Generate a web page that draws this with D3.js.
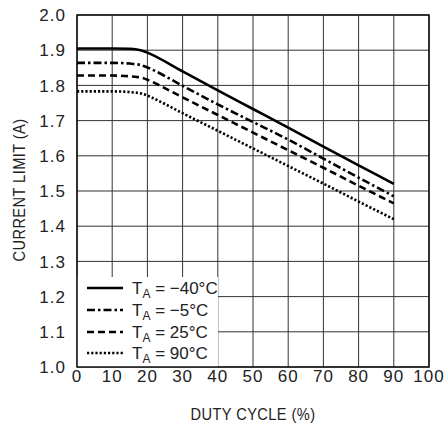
<!DOCTYPE html>
<html>
<head>
<meta charset="utf-8">
<script src="https://cdn.jsdelivr.net/npm/d3@7"></script>
<style>
  body { margin: 0; background: #fff; }
  text { font-family: "Liberation Sans Narrow", "Liberation Sans", Arial, sans-serif; fill: #222; }
</style>
</head>
<body>
<div id="chart"></div>
<script>
const duty = [0, 10, 15, 17, 19, 20, 30, 40, 50, 60, 70, 80, 90];
const limitM40 = [1.905, 1.905, 1.904, 1.902, 1.897, 1.893, 1.840, 1.786, 1.733, 1.680, 1.626, 1.573, 1.520];
const limitM5 = [1.864, 1.864, 1.862, 1.860, 1.855, 1.851, 1.799, 1.746, 1.696, 1.646, 1.592, 1.538, 1.485];
const limit25 = [1.828, 1.828, 1.826, 1.824, 1.820, 1.816, 1.766, 1.716, 1.666, 1.616, 1.566, 1.515, 1.465];
const limit90 = [1.783, 1.783, 1.781, 1.779, 1.775, 1.771, 1.721, 1.671, 1.621, 1.571, 1.521, 1.470, 1.420];
const seriesNames = ["= \u221240\u00b0C", "= \u22125\u00b0C", "= 25\u00b0C", "= 90\u00b0C"];
const xTicks = [0, 10, 20, 30, 40, 50, 60, 70, 80, 90, 100];
const yTicks = [1.0, 1.1, 1.2, 1.3, 1.4, 1.5, 1.6, 1.7, 1.8, 1.9, 2.0];

const width = 444, height = 423;
const margin = { left: 77, right: 15, top: 15, bottom: 56 };

const svg = d3.select("#chart").append("svg")
  .attr("width", width)
  .attr("height", height);

const x = d3.scaleLinear().domain([0, 100]).range([margin.left, width - margin.right]);
const y = d3.scaleLinear().domain([1.0, 2.0]).range([height - margin.bottom, margin.top]);

// grid
svg.append("g")
  .selectAll("line")
  .data(xTicks)
  .enter().append("line")
  .attr("x1", d => x(d)).attr("x2", d => x(d))
  .attr("y1", y(1.0)).attr("y2", y(2.0))
  .attr("stroke", "#333").attr("stroke-width", 1);

svg.append("g")
  .selectAll("line")
  .data(yTicks)
  .enter().append("line")
  .attr("x1", x(0)).attr("x2", x(100))
  .attr("y1", d => y(d)).attr("y2", d => y(d))
  .attr("stroke", "#333").attr("stroke-width", 1);

// legend background hides grid
const legX = x(0), legY = 277, legW = 141;
svg.append("rect")
  .attr("x", legX).attr("y", legY)
  .attr("width", legW).attr("height", y(1.0) - legY)
  .attr("fill", "#fff");

// frame
svg.append("rect")
  .attr("x", x(0)).attr("y", y(2.0))
  .attr("width", x(100) - x(0)).attr("height", y(1.0) - y(2.0))
  .attr("fill", "none").attr("stroke", "#111").attr("stroke-width", 1.5);

// tick labels
svg.append("g")
  .selectAll("text")
  .data(yTicks)
  .enter().append("text")
  .attr("x", 66).attr("y", d => y(d))
  .attr("dy", "0.36em")
  .attr("text-anchor", "end")
  .attr("font-size", 17)
  .attr("letter-spacing", 1)
  .text(d => d.toFixed(1));

svg.append("g")
  .selectAll("text")
  .data(xTicks)
  .enter().append("text")
  .attr("x", d => x(d)).attr("y", 382)
  .attr("text-anchor", "middle")
  .attr("font-size", 17)
  .attr("letter-spacing", 1)
  .text(d => d);

// axis titles, squeezed to look condensed
svg.append("text")
  .attr("transform", `translate(${x(50)},420) scale(0.86,1)`)
  .attr("text-anchor", "middle")
  .attr("font-size", 17)
  .attr("letter-spacing", 0.5)
  .text("DUTY CYCLE (%)");

svg.append("text")
  .attr("transform", `translate(25,190) rotate(-90) scale(0.86,1)`)
  .attr("text-anchor", "middle")
  .attr("font-size", 17)
  .attr("letter-spacing", 0.5)
  .text("CURRENT LIMIT (A)");

// curves
const series = [
  { values: limitM40, dash: null, width: 2.6 },
  { values: limitM5, dash: "8,3,2.5,3", width: 2.6 },
  { values: limit25, dash: "7,4", width: 2.6 },
  { values: limit90, dash: "2.2,2", width: 2.6 }
];

const line = d3.line()
  .x(d => x(d[0]))
  .y(d => y(d[1]))
  .curve(d3.curveMonotoneX);

series.forEach(s => {
  svg.append("path")
    .datum(duty.map((d, i) => [d, s.values[i]]))
    .attr("d", line)
    .attr("fill", "none")
    .attr("stroke", "#000")
    .attr("stroke-width", s.width)
    .attr("stroke-dasharray", s.dash);
});

// legend
const rowY = [288, 310, 332, 353];
series.forEach((s, i) => {
  svg.append("line")
    .attr("x1", 87).attr("x2", 123)
    .attr("y1", rowY[i]).attr("y2", rowY[i])
    .attr("stroke", "#000")
    .attr("stroke-width", s.width)
    .attr("stroke-dasharray", s.dash);
  const t = svg.append("text")
    .attr("x", 132).attr("y", rowY[i])
    .attr("dy", "0.36em")
    .attr("font-size", 17);
  t.append("tspan").text("T");
  t.append("tspan").attr("font-size", 12).attr("dy", 4).text("A");
  t.append("tspan").attr("dy", -4).text(" " + seriesNames[i]);
});
</script>
</body>
</html>
